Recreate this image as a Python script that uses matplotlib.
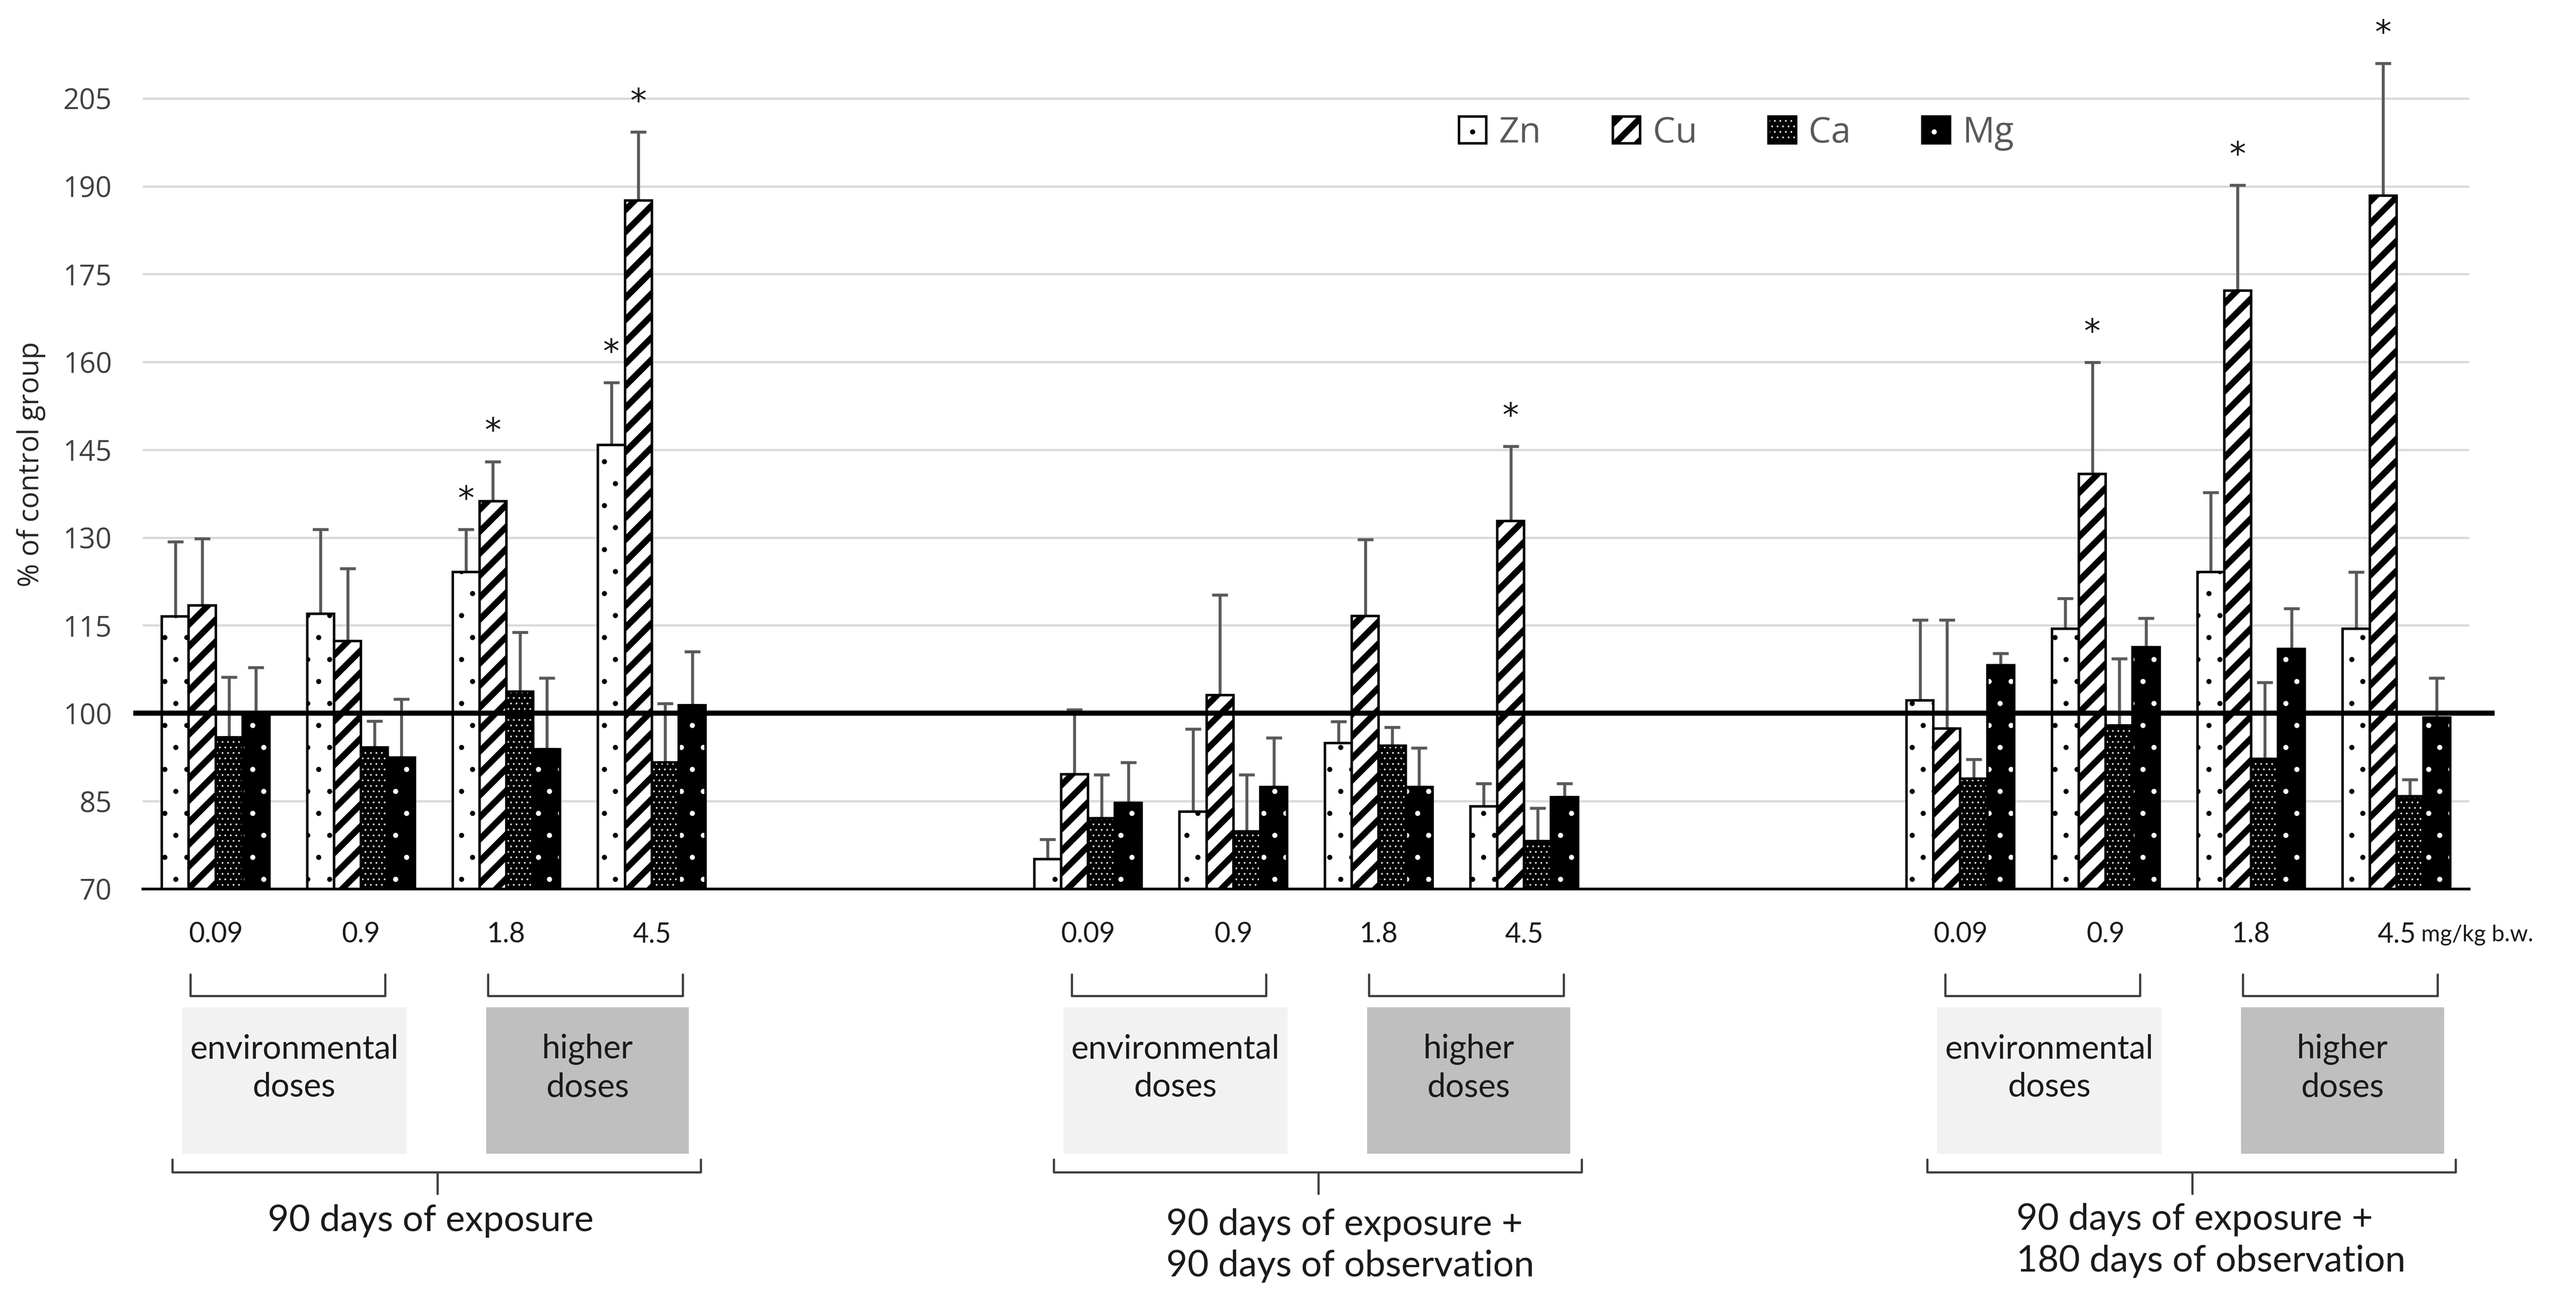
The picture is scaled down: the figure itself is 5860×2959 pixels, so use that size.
import matplotlib
matplotlib.use('Agg')
import matplotlib.pyplot as plt
from matplotlib.patches import Patch, Rectangle
from matplotlib.legend_handler import HandlerTuple
import numpy as np

# categories
doses = ['0.09', '0.9', '1.8', '4.5']
phases = ['90 days of exposure',
          '90 days of exposure +\n90 days of observation',
          '90 days of exposure +\n180 days of observation']
elements = ['Zn', 'Cu', 'Ca', 'Mg']

# % of control group (3 phases x 4 doses) and upper error bars
zn = [116.5, 117.0, 124.1, 145.8, 75.1, 83.2, 94.9, 84.1, 102.2, 114.4, 124.1, 114.4]
zn_sd = [12.8, 14.4, 7.3, 10.7, 3.4, 14.1, 3.7, 3.9, 13.7, 5.2, 13.6, 9.7]
cu = [118.4, 112.3, 136.2, 187.6, 89.6, 103.1, 116.6, 132.8, 97.4, 140.9, 172.2, 188.4]
cu_sd = [11.4, 12.4, 6.8, 11.7, 11.0, 17.1, 13.1, 12.8, 18.5, 19.0, 18.0, 22.6]
ca = [95.9, 94.2, 103.7, 91.6, 82.1, 79.8, 94.5, 78.2, 88.8, 97.9, 92.2, 85.8]
ca_sd = [10.3, 4.5, 10.1, 10.1, 7.4, 9.7, 3.1, 5.6, 3.3, 11.4, 13.1, 2.9]
mg = [99.4, 92.4, 93.9, 101.4, 84.7, 87.4, 87.4, 85.7, 108.2, 111.3, 111.0, 99.3]
mg_sd = [8.4, 10.0, 12.1, 9.1, 6.9, 8.4, 6.7, 2.3, 2.0, 4.9, 6.9, 6.7]

# significance marks (*)
zn_sig = [0, 0, 1, 1, 0, 0, 0, 0, 0, 0, 0, 0]
cu_sig = [0, 0, 1, 1, 0, 0, 0, 1, 0, 1, 1, 1]

values = {'Zn': zn, 'Cu': cu, 'Ca': ca, 'Mg': mg}
errors = {'Zn': zn_sd, 'Cu': cu_sd, 'Ca': ca_sd, 'Mg': mg_sd}
signif = {'Zn': zn_sig, 'Cu': cu_sig}

# bar styles: face, hatch, hatch colour, hatch linewidth
styles = {
    'Zn': ('white', '.', 'black', 0.4),
    'Cu': ('white', '//', 'black', 3.4),
    'Ca': ('black', '....', 'white', 0.35),
    'Mg': ('black', '.', 'white', 0.4),
}
hatch_lw = {st[1]: st[3] for st in styles.values()}

W, H = 1568, 2959 / 3.7372   # layout measured on a 1568 px wide copy


def fx(px):
    return px / W


def fy(px):
    return 1 - px / H


fig = plt.figure(figsize=(5860 / 300, 2959 / 300), dpi=300)
ax = fig.add_axes([fx(87), fy(541), 1416 / W, 541 / H])


def yax(px):
    return (541 - px) / 541


def hatch_kw(face, hatch, hcol):
    if face == 'white':
        return dict(facecolor='white', edgecolor='black', hatch=hatch, linewidth=1.35)
    return dict(facecolor='black', edgecolor=hcol, hatch=hatch, linewidth=0)


n_phase, n_dose = len(phases), len(doses)
slots = np.array([p * 6 + d for p in range(n_phase) for d in range(n_dose)], dtype=float)
bw = 0.185

for i, el in enumerate(elements):
    xs = slots + (i - 1.5) * bw
    face, hatch, hcol, hlw = styles[el]
    vals = np.array(values[el])
    with plt.rc_context({'hatch.linewidth': hlw}):
        ax.bar(xs, vals, bw, zorder=2, **hatch_kw(face, hatch, hcol))
    if face == 'black':
        ax.bar(xs, vals, bw, fill=False, edgecolor='black', linewidth=1.35, zorder=2.1)
    ax.errorbar(xs, vals, yerr=[np.zeros(len(vals)), errors[el]], fmt='none',
                ecolor='#595959', elinewidth=1.6, capsize=4.4, capthick=1.6, zorder=1.8)
    if el in signif:
        for x, v, e, s in zip(xs, vals, errors[el], signif[el]):
            if s:
                ax.text(x, v + e + 5.0, '*', ha='center', va='center', fontsize=18,
                        family='DejaVu Sans', color='#1a1a1a')

ax.axhline(100, xmin=-0.003, xmax=1.0099, color='black', lw=2.8, zorder=3, clip_on=False)

ax.set_xlim(-0.5, 15.5)
ax.set_ylim(70, 221.8)
ax.set_yticks(np.arange(70, 206, 15))
ax.yaxis.grid(True, color='#d9d9d9', lw=1.2)
ax.set_axisbelow(True)
for side in ['top', 'right', 'left']:
    ax.spines[side].set_visible(False)
ax.spines['bottom'].set_linewidth(1.5)
ax.tick_params(axis='y', length=0, pad=17, labelsize=15.5, labelcolor='#404040')
for t in ax.get_yticklabels():
    t.set_family('Open Sans')
ax.set_xticks(slots)
ax.set_xticklabels(doses * n_phase, family='Lato', fontsize=15, color='#1a1a1a')
ax.tick_params(axis='x', length=0, pad=18)

tr = ax.get_xaxis_transform()
ax.text(15.17, yax(569), 'mg/kg b.w.', transform=tr, ha='left', va='center',
        family='Lato', fontsize=12.5, color='#1a1a1a')

fig.text(fx(18.8), fy(282.5), '% of control group', rotation=90, ha='center', va='center',
         family='Open Sans', fontsize=15.5, color='#262626')

# dose-range boxes and brackets under each phase
line_kw = dict(color='#404040', lw=1.2, transform=tr, clip_on=False,
               solid_joinstyle='round', solid_capstyle='round')
shifts = [-0.06, 0.0, 0.01]
label_x = [1.48, 6.537, 12.386]
label_ha = ['center', 'left', 'left']
label_y = [743, 758, 755]
for g in range(n_phase):
    s = g * 6 + shifts[g]
    for a, b in [(-0.113, 1.226), (1.932, 3.271)]:
        ax.plot([s + a, s + a, s + b, s + b], [yax(593), yax(606), yax(606), yax(593)], **line_kw)
    for (a, b), fc, txt in [((-0.17, 1.373), '#f2f2f2', 'environmental\ndoses'),
                            ((1.921, 3.316), '#bfbfbf', 'higher\ndoses')]:
        ax.add_patch(Rectangle((s + a, yax(702)), b - a, yax(613) - yax(702), transform=tr,
                               clip_on=False, facecolor=fc, edgecolor='none'))
        ax.text(s + (a + b) / 2, yax(650), txt, transform=tr, ha='center', va='center',
                family='Lato', fontsize=18, linespacing=1.3, color='#1a1a1a')
    ax.plot([s - 0.237, s - 0.237, s + 3.395, s + 3.395],
            [yax(705.5), yax(713.5), yax(713.5), yax(705.5)], **line_kw)
    ax.plot([s + 1.585, s + 1.585], [yax(713.5), yax(726.5)], **line_kw)
    ax.text(label_x[g], yax(label_y[g]), phases[g], transform=tr, ha=label_ha[g], va='center',
            multialignment='left', family='Lato', fontsize=20, linespacing=1.3, color='#1a1a1a')

# legend
handles = []
for el in elements:
    face, hatch, hcol, hlw = styles[el]
    with plt.rc_context({'hatch.linewidth': hlw}):
        h = Patch(**hatch_kw(face, hatch, hcol))
    if face == 'black':
        h = (h, Patch(fill=False, edgecolor='black', linewidth=1.35))
    handles.append(h)
leg = fig.legend(handles, elements, loc='center left', bbox_to_anchor=(fx(888), fy(81)),
                 ncol=4, frameon=False, handlelength=0.77, handleheight=0.77,
                 handletextpad=0.35, columnspacing=2.0, borderpad=0, borderaxespad=0,
                 handler_map={tuple: HandlerTuple(ndivide=1)},
                 prop={'family': 'Open Sans', 'size': 19.5})
for t in leg.get_texts():
    t.set_color('#595959')


# hatch line width per pattern, applied when each patch is drawn
def bind_hatch_lw(patch, lw):
    draw = patch.draw

    def draw_with_lw(renderer):
        with plt.rc_context({'hatch.linewidth': lw}):
            draw(renderer)
    patch.draw = draw_with_lw


for p in fig.findobj(Patch):
    if p.get_hatch() in hatch_lw:
        bind_hatch_lw(p, hatch_lw[p.get_hatch()])
        if hasattr(p, 'set_hatch_linewidth'):
            p.set_hatch_linewidth(hatch_lw[p.get_hatch()])

fig.savefig('out.png', dpi=300)
